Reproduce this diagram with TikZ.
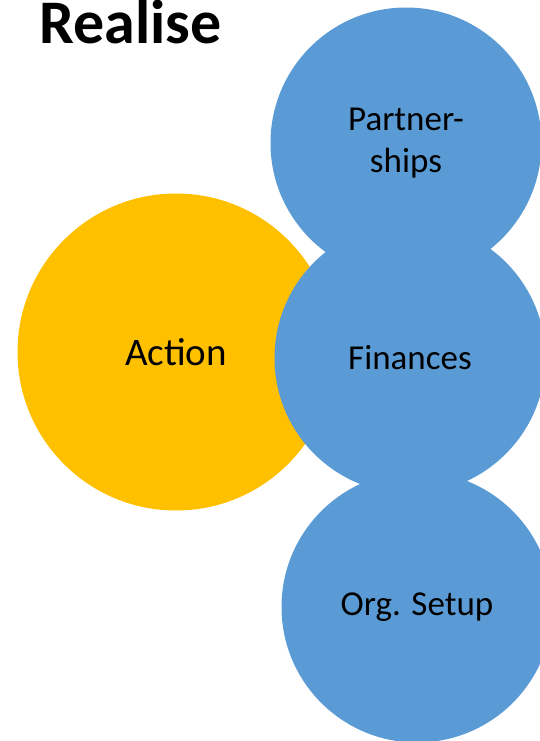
\documentclass[tikz,border=0pt]{standalone}
\usepackage{fontspec}
\setmainfont{Carlito}
\definecolor{actorange}{HTML}{FFC000}
\definecolor{officeblue}{HTML}{5B9BD5}
\begin{document}
\begin{tikzpicture}[x=1pt,y=-1pt,
  bubble/.style={circle,inner sep=0pt,draw=none,align=center,text=black},
  actbubble/.style={bubble,fill=actorange,minimum size=317pt,font=\fontsize{39}{47}\selectfont},
  bluebubble/.style={bubble,fill=officeblue,minimum size=271pt,font=\fontsize{35}{42}\selectfont}]
\useasboundingbox (0,0) rectangle (540,741);
\clip (0,0) rectangle (540,741);
\fill[white] (0,0) rectangle (540,741);
\node[actbubble] (action) at (176,352) {Action};
\node[bluebubble] (partner) at (406,143) {Partner-\\ships};
\node[bluebubble] (fin) at (410,358) {Finances};
\node[bluebubble] (org) at (417,607) {Org. Setup};
\node[anchor=base west,inner sep=0pt,font=\bfseries\fontsize{62}{74}\selectfont] (title) at (39,43.5) {Realise};
\end{tikzpicture}
\end{document}
